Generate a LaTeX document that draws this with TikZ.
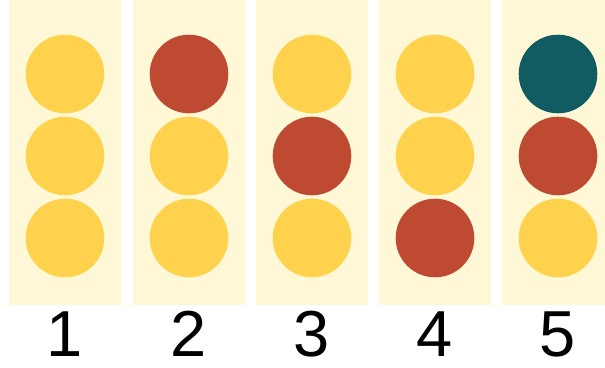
\documentclass[tikz,border=0pt]{standalone}
\usepackage{fontspec}
\setmainfont{Liberation Sans}
\definecolor{beige}{HTML}{FFF8D6}
\definecolor{yel}{HTML}{FFD24D}
\definecolor{redc}{HTML}{BE4A32}
\definecolor{teal}{HTML}{115C63}
\begin{document}
\begin{tikzpicture}[x=1pt,y=-1pt,
  col/.style={fill=beige,draw=none},
  dot/.style={circle,minimum size=78.6pt,inner sep=0pt,draw=none},
  lab/.style={font=\fontsize{65}{70}\selectfont,anchor=base,inner sep=0pt,text depth=0pt}]
\useasboundingbox (0,0) rectangle (605,367);
\begin{scope}
\clip (0,0) rectangle (605,367);
\foreach \i/\cx in {1/65,2/189,3/312,4/435,5/558}{
  \fill[beige] (\cx-56,0) rectangle (\cx+56,304.5);
}
\end{scope}
% column 1
\node[dot,fill=yel] (a1) at (65,74) {};
\node[dot,fill=yel] (a2) at (65,156) {};
\node[dot,fill=yel] (a3) at (65,238) {};
% column 2
\node[dot,fill=redc] (b1) at (189,74) {};
\node[dot,fill=yel] (b2) at (189,156) {};
\node[dot,fill=yel] (b3) at (189,238) {};
% column 3
\node[dot,fill=yel] (c1) at (312,74) {};
\node[dot,fill=redc] (c2) at (312,156) {};
\node[dot,fill=yel] (c3) at (312,238) {};
% column 4
\node[dot,fill=yel] (d1) at (435,74) {};
\node[dot,fill=yel] (d2) at (435,156) {};
\node[dot,fill=redc] (d3) at (435,238) {};
% column 5
\node[dot,fill=teal] (e1) at (558,74) {};
\node[dot,fill=redc] (e2) at (558,156) {};
\node[dot,fill=yel] (e3) at (558,238) {};
% labels
\node[lab] (l1) at (65,356.5) {1};
\node[lab] (l2) at (189,356.5) {2};
\node[lab] (l3) at (312,356.5) {3};
\node[lab] (l4) at (435,356.5) {4};
\node[lab] (l5) at (558,356.5) {5};
\end{tikzpicture}
\end{document}
